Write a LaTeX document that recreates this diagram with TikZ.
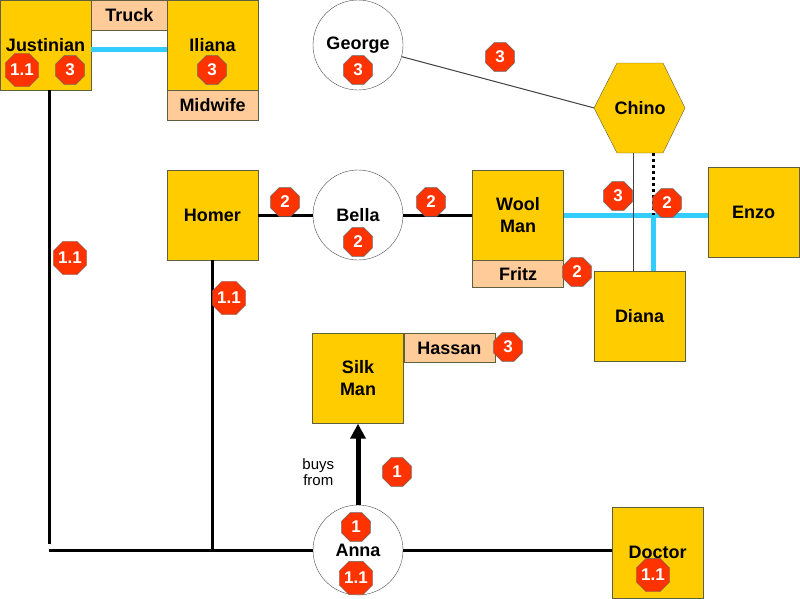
\documentclass[tikz,border=0pt]{standalone}
\usepackage{fontspec}
\setmainfont{Liberation Sans}
\usetikzlibrary{arrows.meta,positioning,shapes.geometric}
\definecolor{gold}{HTML}{FFCC00}
\definecolor{peach}{HTML}{FFCC99}
\definecolor{edge}{HTML}{5F5F3F}
\definecolor{stopred}{HTML}{FF3300}
\definecolor{kinblue}{HTML}{33CCFF}

\begin{document}
\begin{tikzpicture}[
  x=1pt,y=-1pt,
  person/.style={draw=edge,fill=gold,minimum width=91pt,minimum height=90pt,
    inner sep=0pt,align=center,font=\fontsize{18}{22}\selectfont\bfseries},
  ring/.style={circle,draw=black!70,fill=white,minimum size=90pt,inner sep=0pt,
    font=\fontsize{18}{22}\selectfont\bfseries},
  role/.style={draw=edge,fill=peach,minimum width=91pt,minimum height=29pt,
    inner sep=0pt,font=\fontsize{18}{22}\selectfont\bfseries},
  badge/.style={regular polygon,regular polygon sides=8,minimum size=31pt,
    inner sep=0pt,draw=black!60,fill=stopred,text=white,
    font=\fontsize{17}{17}\selectfont\bfseries},
  tie/.style={line width=3pt,draw=black},
  kin/.style={line width=5pt,draw=kinblue},
  wire/.style={line width=1pt,draw=black!75}
]
\useasboundingbox (0,0) rectangle (800,598);

\draw[draw=edge,fill=gold] (594,108) -- (617,63) -- (663,63) -- (685,108)
  -- (663,153) -- (617,153) -- cycle;
\node[minimum width=91pt,minimum height=90pt,inner sep=0pt,
  font=\fontsize{18}{22}\selectfont\bfseries] (chino) at (640,108) {Chino};

\node[person] (justinian) at (45.5,45) {Justinian};
\node[person] (iliana) at (212.5,45) {Iliana};
\node[role,minimum width=76pt,minimum height=30pt,anchor=north west] (truck)
  at (justinian.north east) {Truck};
\node[role,minimum height=30pt,below=0pt of iliana] (midwife) {Midwife};
\node[ring] (george) at (358,45) {George};
\node[person] (homer) at (212.5,215) {Homer};
\node[ring] (bella) at (358,215) {Bella};
\node[person] (wool) at (518,215) {Wool\\Man};
\node[role,minimum height=27pt,below=0pt of wool] (fritz) {Fritz};
\node[person] (enzo) at (753.5,212) {Enzo};
\node[person] (diana) at (639.5,316.5) {Diana};
\node[person] (silk) at (358,378.5) {Silk\\Man};
\node[role,anchor=north west] (hassan) at (silk.north east) {Hassan};
\node[ring] (anna) at (358,550) {Anna};
\node[person,minimum height=91pt] (doctor) at (657.5,552.5) {Doctor};

\coordinate (jbend) at (49,544);
\coordinate (lstart) at (49,550);
\coordinate (split) at (653,215);

\draw[kin] ([yshift=-4pt]justinian.east) -- ([yshift=-4pt]iliana.west);
\draw[tie] (justinian.south -| jbend) -- (jbend);
\draw[tie] (lstart) -- (anna);
\draw[tie] (homer.south) -- (homer.south |- lstart);
\draw[tie] (anna) -- (anna -| doctor.west);
\draw[tie] (homer) -- (bella);
\draw[tie] (bella) -- (wool);
\draw[kin] (wool.east) -- (wool.east -| enzo.west);
\draw[kin] (split) -- (split |- diana.north);
\draw[line width=3pt,dash pattern=on 3pt off 3pt] (split |- chino.south) -- (split);
\draw[wire] ([xshift=-7pt]chino.south) -- ([xshift=-7pt]chino.south |- diana.north);
\draw[wire] (george) -- (chino.west);
\draw[-{Triangle[length=15pt,width=15pt]},line width=5pt] (anna) --
  node[pos=0.4,left=18pt,align=center,font=\fontsize{15}{16}\selectfont] (buys)
  {buys\\from} (silk);

\foreach \lbl/\bx/\by [count=\i] in {1.1/22/70,3/70/70,3/212/70,3/358/70,
    3/500/57,1.1/70/258,2/285/202,2/358/242,2/431/202,2/577/272,3/618/196,
    2/667/203,1.1/229/298,3/508/347,1/397/472,1/356/527,1.1/356/578,1.1/653/575}
  \node[badge] (badge\i) at (\bx,\by) {\lbl};
\end{tikzpicture}
\end{document}
